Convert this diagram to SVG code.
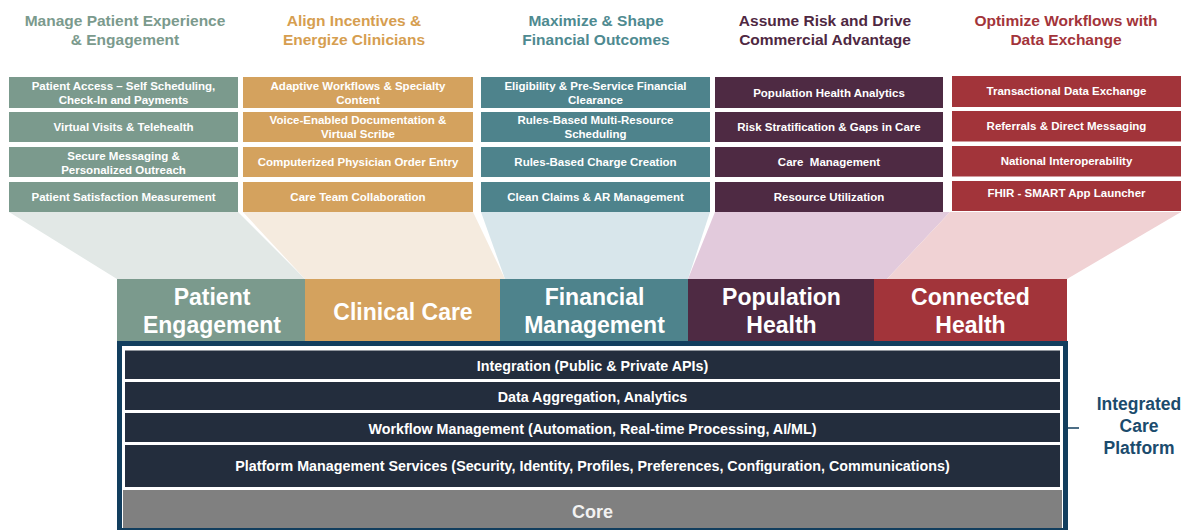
<svg xmlns="http://www.w3.org/2000/svg" width="1184" height="530" viewBox="0 0 1184 530">
  <style>
    text { font-family: "Liberation Sans", Arial, sans-serif; font-weight: bold; text-anchor: middle; }
    .hdr { font-size: 15.5px; }
    .box text, .cap { font-size: 11.5px; fill: #ffffff; }
    .cat { font-size: 23px; fill: #ffffff; }
    .layer { font-size: 14.3px; fill: #ffffff; }
    .c1 { fill: #7b9a8d; }
    .c2 { fill: #d4a25e; }
    .c3 { fill: #4e838c; }
    .c4 { fill: #4e2a43; }
    .c5 { fill: #a2343a; }
    .h1 { fill: #7b9a8d; }
    .h2 { fill: #d69e50; }
    .h3 { fill: #4e8a90; }
    .h4 { fill: #4f2842; }
    .h5 { fill: #a3343a; }
    .row { fill: #232d3d; }
  </style>

  <rect width="1184" height="530" fill="#ffffff"/>

  <!-- funnels linking each capability column to its domain bar -->
  <g id="connectors">
    <polygon points="9,212 238,212 305,279 117,279" fill="#e2e8e6"/>
    <polygon points="243,212 473,212 505,279 305,279" fill="#f5ebdf"/>
    <polygon points="481,212 710,212 688,279 505,279" fill="#d8e6eb"/>
    <polygon points="715,212 950,212 887,279 688,279" fill="#e2cadc"/>
    <polygon points="950,212 1181,212 1067,279 887,279" fill="#f0d2d4"/>
    <line x1="1068" y1="428" x2="1079" y2="428" stroke="#123e5e" stroke-width="1.5"/>
  </g>

  <!-- column 1: patient engagement -->
  <g id="col-patient">
    <text class="hdr h1" x="125" y="26">Manage Patient Experience</text>
    <text class="hdr h1" x="125" y="45">&amp; Engagement</text>
    <g class="box">
      <rect class="c1" x="9" y="77" width="229" height="31"/>
      <text x="123.5" y="90">Patient Access – Self Scheduling,</text>
      <text x="123.5" y="104">Check-In and Payments</text>
      <rect class="c1" x="9" y="112" width="229" height="30"/>
      <text x="123.5" y="131">Virtual Visits &amp; Telehealth</text>
      <rect class="c1" x="9" y="147" width="229" height="30"/>
      <text x="123.5" y="160">Secure Messaging &amp;</text>
      <text x="123.5" y="174">Personalized Outreach</text>
      <rect class="c1" x="9" y="182" width="229" height="30"/>
      <text x="123.5" y="201">Patient Satisfaction Measurement</text>
    </g>
  </g>

  <!-- column 2: clinical care -->
  <g id="col-clinical">
    <text class="hdr h2" x="354" y="26">Align Incentives &amp;</text>
    <text class="hdr h2" x="354" y="45">Energize Clinicians</text>
    <g class="box">
      <rect class="c2" x="243" y="77" width="230" height="31"/>
      <text x="358" y="90">Adaptive Workflows &amp; Specialty</text>
      <text x="358" y="104">Content</text>
      <rect class="c2" x="243" y="112" width="230" height="30"/>
      <text x="358" y="124">Voice-Enabled Documentation &amp;</text>
      <text x="358" y="138">Virtual Scribe</text>
      <rect class="c2" x="243" y="147" width="230" height="30"/>
      <text x="358" y="166">Computerized Physician Order Entry</text>
      <rect class="c2" x="243" y="182" width="230" height="30"/>
      <text x="358" y="201">Care Team Collaboration</text>
    </g>
  </g>

  <!-- column 3: financial management -->
  <g id="col-financial">
    <text class="hdr h3" x="596" y="26">Maximize &amp; Shape</text>
    <text class="hdr h3" x="596" y="45">Financial Outcomes</text>
    <g class="box">
      <rect class="c3" x="481" y="77" width="229" height="31"/>
      <text x="595.5" y="90">Eligibility &amp; Pre-Service Financial</text>
      <text x="595.5" y="104">Clearance</text>
      <rect class="c3" x="481" y="112" width="229" height="30"/>
      <text x="595.5" y="124">Rules-Based Multi-Resource</text>
      <text x="595.5" y="138">Scheduling</text>
      <rect class="c3" x="481" y="147" width="229" height="30"/>
      <text x="595.5" y="166">Rules-Based Charge Creation</text>
      <rect class="c3" x="481" y="182" width="229" height="30"/>
      <text x="595.5" y="201">Clean Claims &amp; AR Management</text>
    </g>
  </g>

  <!-- column 4: population health -->
  <g id="col-population">
    <text class="hdr h4" x="825" y="26">Assume Risk and Drive</text>
    <text class="hdr h4" x="825" y="45">Commercial Advantage</text>
    <g class="box">
      <rect class="c4" x="715" y="77" width="228" height="31"/>
      <text x="829" y="96.5">Population Health Analytics</text>
      <rect class="c4" x="715" y="112" width="228" height="30"/>
      <text x="829" y="131">Risk Stratification &amp; Gaps in Care</text>
      <rect class="c4" x="715" y="147" width="228" height="30"/>
      <text x="829" y="166" xml:space="preserve">Care  Management</text>
      <rect class="c4" x="715" y="182" width="228" height="30"/>
      <text x="829" y="201">Resource Utilization</text>
    </g>
  </g>

  <!-- column 5: connected health -->
  <g id="col-connected">
    <text class="hdr h5" x="1066" y="26">Optimize Workflows with</text>
    <text class="hdr h5" x="1066" y="45">Data Exchange</text>
    <g class="box">
      <rect class="c5" x="952" y="76" width="229" height="31"/>
      <text x="1066.5" y="95">Transactional Data Exchange</text>
      <rect class="c5" x="952" y="111" width="229" height="30.5"/>
      <text x="1066.5" y="130">Referrals &amp; Direct Messaging</text>
      <rect class="c5" x="952" y="146" width="229" height="30.5"/>
      <text x="1066.5" y="165">National Interoperability</text>
      <rect class="c5" x="952" y="181" width="229" height="30"/>
      <text x="1066.5" y="197">FHIR - SMART App Launcher</text>
    </g>
  </g>

  <!-- domain bars -->
  <g id="domain-patient-engagement">
    <rect class="c1" x="117" y="279" width="189" height="63"/>
    <text class="cat" x="212" y="305">Patient</text>
    <text class="cat" x="212" y="333">Engagement</text>
  </g>
  <g id="domain-clinical-care">
    <rect class="c2" x="305" y="279" width="196" height="63"/>
    <text class="cat" x="403" y="320">Clinical Care</text>
  </g>
  <g id="domain-financial-management">
    <rect class="c3" x="500" y="279" width="189" height="63"/>
    <text class="cat" x="594.5" y="305">Financial</text>
    <text class="cat" x="594.5" y="333">Management</text>
  </g>
  <g id="domain-population-health">
    <rect class="c4" x="688" y="279" width="187" height="63"/>
    <text class="cat" x="781.5" y="305">Population</text>
    <text class="cat" x="781.5" y="333">Health</text>
  </g>
  <g id="domain-connected-health">
    <rect class="c5" x="874" y="279" width="193" height="63"/>
    <text class="cat" x="970.5" y="305">Connected</text>
    <text class="cat" x="970.5" y="333">Health</text>
  </g>

  <!-- platform stack -->
  <g id="platform">
    <rect x="117" y="341" width="951" height="192" fill="#123e5e"/>
    <rect x="122" y="346" width="941" height="182" fill="#ffffff"/>
    <rect class="row" x="125" y="350.5" width="935" height="28.5"/>
    <text class="layer" x="592.5" y="371">Integration (Public &amp; Private APIs)</text>
    <rect class="row" x="125" y="382" width="935" height="28"/>
    <text class="layer" x="592.5" y="402">Data Aggregation, Analytics</text>
    <rect class="row" x="125" y="413" width="935" height="29"/>
    <text class="layer" x="592.5" y="433.5">Workflow Management (Automation, Real-time Processing, AI/ML)</text>
    <rect class="row" x="125" y="445" width="935" height="42"/>
    <text class="layer" x="592.5" y="471">Platform Management Services (Security, Identity, Profiles, Preferences, Configuration, Communications)</text>
    <rect x="123" y="490" width="939" height="38" fill="#808080"/>
    <text x="592.5" y="517.5" font-size="18" fill="#f2f2f2">Core</text>
  </g>

  <g id="platform-label">
    <text x="1139" y="409.5" font-size="17.5" fill="#1b4b6d">Integrated</text>
    <text x="1139" y="431.5" font-size="17.5" fill="#1b4b6d">Care</text>
    <text x="1139" y="453.5" font-size="17.5" fill="#1b4b6d">Platform</text>
  </g>
</svg>
